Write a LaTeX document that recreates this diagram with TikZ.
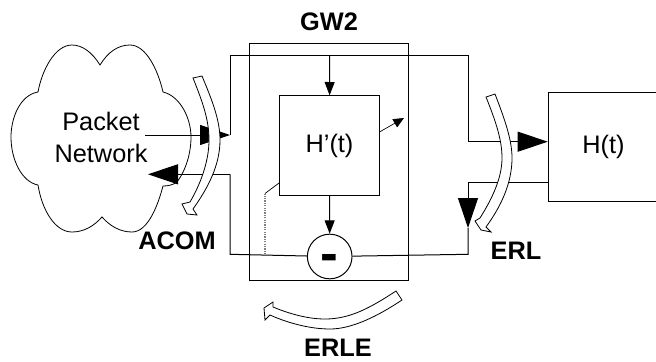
\documentclass[tikz,border=0pt]{standalone}
\usepackage{fontspec}
\setmainfont{Liberation Sans}
\usetikzlibrary{arrows.meta}

\begin{document}
\begin{tikzpicture}[x=0.75pt,y=-0.75pt,
    wire/.style={line width=0.75pt},
    box/.style={draw,line width=0.75pt,inner sep=0pt},
    sig/.style={wire,-{Triangle[length=10pt,width=7.5pt]}},
    bigsig/.style={wire,-{Triangle[length=22.5pt,width=15pt]}},
    hollow/.style={draw,fill=white,line width=0.6pt,line join=miter},
    lbl/.style={font=\fontsize{19}{24}\selectfont,inner sep=0pt},
    blbl/.style={font=\fontsize{19}{24}\selectfont\bfseries,inner sep=0pt}
]
\useasboundingbox (0,0) rectangle (656,361);

% =========================
% Gateway and echo path
% =========================
\node[box,minimum width=119.5pt,minimum height=178pt] (gw) at (329,162) {};
\node[box,minimum width=75pt,minimum height=74.5pt,lbl] (hp) at (329.5,145.5) {H\char39(t)};
\node[box,minimum width=83pt,minimum height=82pt,lbl,anchor=west] (h) at (547.7,147) {H(t)};
\node[draw,circle,line width=0.75pt,minimum size=33.5pt,inner sep=0pt] (sum) at (329.7,256.5) {};
\node[font=\fontsize{40}{40}\selectfont\bfseries,inner sep=0pt] (minus) at (329.7,263) {-};

% free ends of the wires
\coordinate (tl) at (230,55.7);
\coordinate (tr) at (468,55.7);
\coordinate (bl) at (230,254.3);
\coordinate (br) at (468,254.3);
\coordinate (in) at (230,135);
\coordinate (out) at (230,174.3);
\coordinate (rxa) at (468,141.7);
\coordinate (rxb) at (468,182);
\coordinate (rxtip) at (468,228);
\coordinate (hin) at (547.7,141.7);
\coordinate (hout) at (547.7,182);
\coordinate (top) at (329.7,55.7);
\coordinate (pk) at (145,135);
\coordinate (nw) at (148,174.3);
\coordinate (adpt) at (380,131.7);
\coordinate (adtip) at (404,118);
\coordinate (tap) at (265,254.3);
\coordinate (tapa) at (265,193.5);
\coordinate (tapb) at (279.7,182.5);

% cloud
\draw[line width=0.6pt] (100,65)
    .. controls (92,52) and (82,45) .. (72,45)
    .. controls (55,45) and (42,70) .. (38,92)
    .. controls (20,95) and (11,118) .. (11,137)
    .. controls (11,160) and (22,182) .. (38,185)
    .. controls (42,210) and (55,232) .. (72,232)
    .. controls (84,232) and (94,226) .. (102,217)
    .. controls (110,226) and (120,232) .. (132,232)
    .. controls (148,232) and (158,205) .. (163,186)
    .. controls (168,186) and (173,185) .. (177,182)
    .. controls (186,170) and (191,153) .. (191,137)
    .. controls (191,118) and (180,96) .. (163,92)
    .. controls (158,70) and (146,45) .. (130,45)
    .. controls (118,45) and (108,52) .. (100,65) -- cycle;
\node[lbl,align=center] (net) at (101,137) {Packet\\Network};

% wires
\draw[wire] (in) -- (tl) -- (tr) -- (rxa);
\draw[wire] (out) -- (bl) -- (sum);
\draw[wire] (sum) -- (br) -- (rxtip);
\draw[bigsig] (rxa) -- (hin);
\draw[wire] (hout) -- (rxb);
\draw[bigsig] (rxb) -- (rxtip);
\draw[sig] (top) -- (hp);
\draw[sig] (hp) -- (sum);
\draw[bigsig] (pk) -- (in);
\draw[bigsig] (out) -- (nw);
\draw[line width=0.5pt,-{Triangle[length=8pt,width=7pt]}] (adpt) -- (adtip);
\draw[line width=0.8pt,gray,densely dotted] (tap) -- (tapa);
\draw[line width=0.5pt] (tapa) -- (tapb);

% =========================
% Hollow level arrows
% =========================
\draw[hollow] (193,78) .. controls (203,103) and (209,120) .. (209,140)
    .. controls (209,162) and (200,185) .. (190,202) -- (182,204) -- (187,214) -- (197,215) -- (193,209)
    .. controls (208,188) and (220,165) .. (220,140)
    .. controls (220,120) and (212,100) .. (202,76) -- cycle;
\draw[hollow] (486,97) .. controls (496,122) and (502,140) .. (502,158)
    .. controls (502,180) and (490,202) .. (480,218) -- (475,221) -- (481,230) -- (491,232) -- (486,227)
    .. controls (502,205) and (512,182) .. (512,158)
    .. controls (512,140) and (505,120) .. (495,94) -- cycle;
\draw[hollow] (396,291) .. controls (370,308) and (350,319) .. (325,319)
    .. controls (308,319) and (290,314) .. (273,307) -- (273,302) -- (264,308) -- (265,320) -- (270,315)
    .. controls (290,324) and (312,329) .. (330,329)
    .. controls (352,329) and (378,316) .. (402,300) -- cycle;

% labels
\node[blbl] (gw2) at (329,22) {GW2};
\node[blbl] (acom) at (177,241) {ACOM};
\node[blbl] (erl) at (516,251) {ERL};
\node[blbl] (erle) at (338,348) {ERLE};
\end{tikzpicture}
\end{document}
